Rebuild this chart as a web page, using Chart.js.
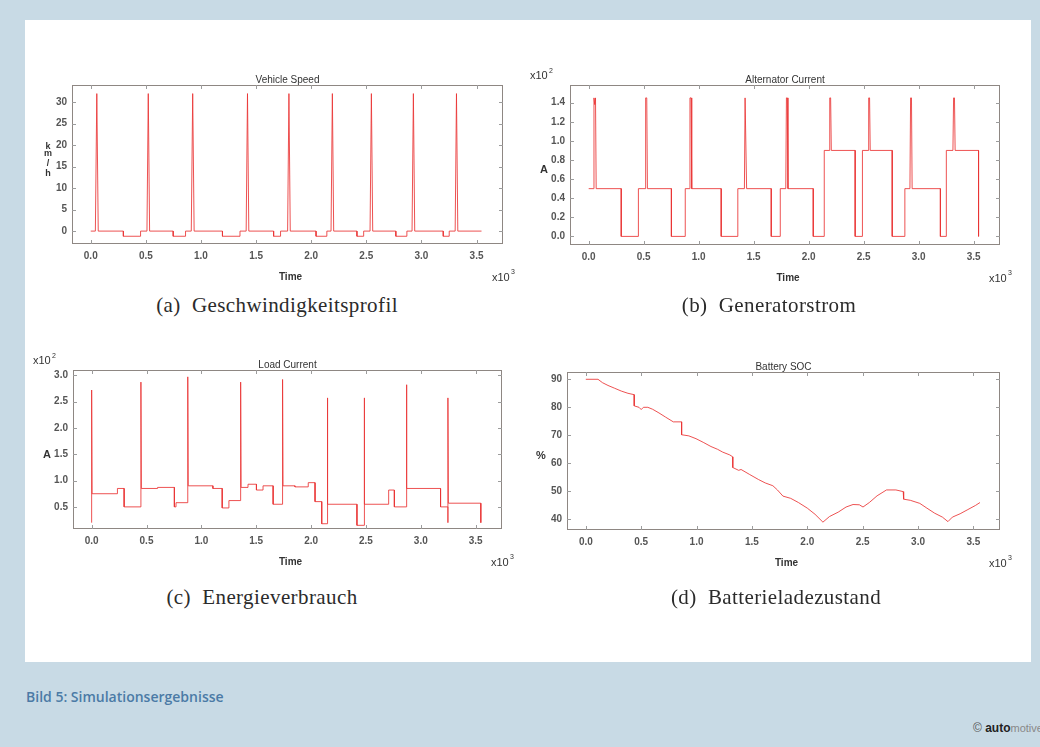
<!DOCTYPE html>
<html>
<head>
<meta charset="utf-8">
<script src="https://cdn.jsdelivr.net/npm/chart.js@4.4.1/dist/chart.umd.min.js"></script>
<style>
  body { margin: 0; width: 1040px; height: 747px; position: relative; overflow: hidden; background: #c8dae5; }
  #panel { position: absolute; left: 25px; top: 20px; width: 1006px; height: 642px; background: #fff; }
  canvas { position: absolute; }
  .cap { position: absolute; width: 400px; text-align: center; font: 21px "Liberation Serif", serif; letter-spacing: 0.4px; color: #2b2b2b; line-height: 24px; }
  #bild { position: absolute; left: 26px; top: 687px; font: 600 14px "Open Sans", sans-serif; color: #4b7aa6; }
  #copy { position: absolute; left: 973px; top: 721px; font: 12px "Liberation Sans", sans-serif; color: #555; white-space: nowrap; }
  #copy b { color: #222; }
  #copy span { color: #888; font-size: 11px; }
</style>
</head>
<body>
<div id="panel"></div>
<canvas id="speedChart" width="536" height="224" style="left:12px;top:65px"></canvas>
<canvas id="altChart" width="535" height="225" style="left:510px;top:65px"></canvas>
<canvas id="loadChart" width="534" height="224" style="left:13px;top:350px"></canvas>
<canvas id="socChart" width="538" height="223" style="left:507px;top:352px"></canvas>

<div class="cap" style="left:77px;top:293px">(a)&nbsp; Geschwindigkeitsprofil</div>
<div class="cap" style="left:569px;top:293px">(b)&nbsp; Generatorstrom</div>
<div class="cap" style="left:62px;top:585px">(c)&nbsp; Energieverbrauch</div>
<div class="cap" style="left:576px;top:585px">(d)&nbsp; Batterieladezustand</div>

<div id="bild">Bild 5: Simulationsergebnisse</div>
<div id="copy">© <b>auto</b><span>motive</span></div>

<script>
// time in s, shown on the axis as x10^3
const xTicks = [0, 500, 1000, 1500, 2000, 2500, 3000, 3500];

// (a) vehicle speed, km/h
const speedTime = [0, 42, 55, 68, 296, 296, 452, 452, 510, 522, 534, 748, 748, 860, 860, 912, 925, 938,
  1195, 1195, 1354, 1354, 1410, 1422, 1434, 1659, 1659, 1722, 1722, 1786, 1798, 1810, 2044, 2044, 2142, 2142,
  2180, 2192, 2204, 2415, 2415, 2476, 2476, 2534, 2546, 2558, 2768, 2768, 2868, 2868, 2915, 2927, 2939,
  3198, 3198, 3252, 3252, 3306, 3318, 3330, 3545];
const speedKmh = [0, 0, 32, 0, 0, -1.2, -1.2, 0, 0, 32, 0, 0, -1.2, -1.2, 0, 0, 32, 0,
  0, -1.2, -1.2, 0, 0, 32, 0, 0, -1.2, -1.2, 0, 0, 32, 0, 0, -1.2, -1.2, 0,
  0, 32, 0, 0, -1.2, -1.2, 0, 0, 32, 0, 0, -1.2, -1.2, 0, 0, 32, 0,
  0, -1.2, -1.2, 0, 0, 32, 0, 0];
const speedTicks = [0, 5, 10, 15, 20, 25, 30];

// (b) alternator current, A
const altTime = [0, 42, 48, 55, 62, 68, 296, 296, 452, 452, 512, 518, 528, 534, 752, 752, 878, 878,
  915, 921, 931, 937, 1205, 1205, 1356, 1356, 1416, 1422, 1430, 1436, 1660, 1660, 1742, 1742,
  1792, 1798, 1806, 1812, 2042, 2042, 2142, 2142, 2186, 2192, 2200, 2206, 2423, 2423, 2489, 2489,
  2540, 2546, 2554, 2560, 2760, 2760, 2875, 2875, 2921, 2927, 2935, 2941, 3198, 3198, 3252, 3252,
  3312, 3318, 3326, 3332, 3545, 3545];
const altAmps = [50, 50, 145, 138, 145, 50, 50, 0, 0, 50, 50, 145, 145, 50, 50, 0, 0, 50,
  50, 145, 145, 50, 50, 0, 0, 50, 50, 145, 145, 50, 50, 0, 0, 50,
  50, 145, 145, 50, 50, 0, 0, 90, 90, 145, 145, 90, 90, 0, 0, 90,
  90, 145, 145, 90, 90, 0, 0, 50, 50, 145, 145, 50, 50, 0, 0, 90,
  90, 145, 145, 90, 90, 0];
const altTicks = [0, 20, 40, 60, 80, 100, 120, 140];

// (c) load current, A
const loadTime = [0, 0, 4, 235, 235, 296, 296, 449, 449, 453, 601, 601, 754, 754, 769, 769, 876, 876, 880,
  1105, 1105, 1190, 1190, 1251, 1251, 1358, 1358, 1362, 1425, 1425, 1502, 1502, 1562, 1562, 1654, 1654,
  1740, 1740, 1744, 1853, 1853, 1974, 1974, 2036, 2036, 2097, 2097, 2148, 2148, 2152, 2418, 2418, 2484,
  2484, 2488, 2707, 2707, 2759, 2759, 2869, 2869, 2873, 3180, 3180, 3247, 3247, 3247, 3251, 3547, 3547];
const loadAmps = [20, 272, 75, 75, 85, 85, 50, 50, 287, 85, 85, 87, 87, 50, 50, 58, 58, 297, 90,
  90, 85, 85, 48, 48, 62, 62, 287, 87, 87, 93, 93, 82, 82, 90, 90, 55,
  55, 292, 90, 90, 88, 88, 96, 96, 60, 60, 18, 18, 257, 55, 55, 15, 15,
  257, 55, 55, 82, 82, 50, 50, 282, 85, 85, 50, 50, 20, 257, 57, 57, 20];
const loadTicks = [50, 100, 150, 200, 250, 300];

// (d) battery state of charge, %
const socTime = [0, 110, 150, 200, 260, 320, 380, 437, 437, 480, 500, 520, 560, 603, 660, 720, 790, 865, 865,
  930, 995, 1060, 1130, 1190, 1236, 1300, 1327, 1327, 1380, 1402, 1480, 1560, 1620, 1689, 1730, 1780,
  1850, 1920, 2000, 2070, 2141, 2200, 2280, 2350, 2413, 2470, 2503, 2560, 2630, 2715, 2800, 2866, 2870,
  2930, 3016, 3080, 3150, 3220, 3270, 3310, 3380, 3450, 3520, 3559];
const socPct = [90, 90, 88.8, 87.8, 86.8, 85.8, 85, 84.5, 80.5, 80, 79.2, 80, 80, 79.3, 78, 76.5, 74.8, 74.8, 70.2,
  69.8, 68.8, 67.5, 66, 65, 64, 63, 62.3, 58.5, 57.5, 57.8, 56, 54.2, 53, 52, 50.5, 48.3,
  47.5, 46, 44, 41.8, 39, 41, 42.6, 44.4, 45.3, 45.2, 44.4, 46, 48.4, 50.5, 50.5, 49.9, 47.2,
  46.8, 45.7, 44, 42.2, 40.8, 39.2, 40.8, 42, 43.5, 45, 46];
const socTicks = [40, 50, 60, 70, 80, 90];

const FONT = '"Liberation Sans", Arial, sans-serif';

const figureText = {
  id: 'figureText',
  afterDraw(chart, args, o) {
    const { ctx, chartArea: a } = chart;
    const xs = chart.scales.x, ys = chart.scales.y;
    ctx.save();
    // frame round the plot
    ctx.strokeStyle = '#8e8783';
    ctx.lineWidth = 1;
    ctx.strokeRect(Math.round(a.left) + 0.5, Math.round(a.top) + 0.5, Math.round(a.width) - 1, Math.round(a.height) - 1);
    // inward tick marks on all four sides
    ctx.strokeStyle = '#9c9c9c';
    ctx.beginPath();
    xs.ticks.forEach(t => {
      const p = Math.round(xs.getPixelForValue(t.value)) + 0.5;
      ctx.moveTo(p, a.bottom); ctx.lineTo(p, a.bottom - 4);
      ctx.moveTo(p, a.top); ctx.lineTo(p, a.top + 4);
    });
    ys.ticks.forEach(t => {
      const p = Math.round(ys.getPixelForValue(t.value)) + 0.5;
      ctx.moveTo(a.left, p); ctx.lineTo(a.left + 4, p);
      ctx.moveTo(a.right, p); ctx.lineTo(a.right - 4, p);
    });
    ctx.stroke();

    const cx = (a.left + a.right) / 2;
    ctx.fillStyle = '#333';
    ctx.textAlign = 'center';
    ctx.textBaseline = 'alphabetic';
    ctx.font = '10px ' + FONT;
    ctx.fillText(o.title, cx, a.top - 2);

    ctx.textBaseline = 'middle';
    ctx.font = 'bold 10px ' + FONT;
    ctx.fillText('Time', cx + 3, a.bottom + 33);

    ctx.textAlign = 'left';
    ctx.font = '11px ' + FONT;
    ctx.fillText('x10', a.right - 11, a.bottom + 34);
    ctx.font = '7px ' + FONT;
    ctx.fillText('3', a.right + 8, a.bottom + 28);

    if (o.mult) {
      ctx.font = '11px ' + FONT;
      ctx.fillText('x10', a.left - 40, a.top - 9);
      ctx.font = '7px ' + FONT;
      ctx.fillText(o.mult, a.left - 21, a.top - 14);
    }

    // y label, stacked letter by letter for km/h
    ctx.textAlign = 'center';
    ctx.textBaseline = 'alphabetic';
    const cy = (a.top + a.bottom) / 2;
    const letters = o.yLabel.split(' ');
    if (letters.length > 1) {
      ctx.font = 'bold 9px ' + FONT;
      const offs = [-16, -8.5, 1, 11];
      letters.forEach((s, i) => ctx.fillText(s, a.left - 24, cy + offs[i]));
    } else {
      ctx.font = 'bold 11px ' + FONT;
      ctx.fillText(o.yLabel, a.left - 26, cy + 8);
    }
    ctx.restore();
  }
};

function series(times, values) {
  return times.map((t, i) => ({ x: t, y: values[i] }));
}

function makeChart(id, cfg) {
  return new Chart(document.getElementById(id), {
    type: 'line',
    data: {
      datasets: [{
        data: series(cfg.times, cfg.values),
        borderColor: 'rgba(234, 52, 52, 0.85)',
        borderWidth: 1,
        pointRadius: 0,
        tension: 0
      }]
    },
    options: {
      responsive: false,
      animation: false,
      devicePixelRatio: 1,
      layout: { padding: { top: 20, right: 45, left: 0, bottom: 0 } },
      scales: {
        x: {
          type: 'linear',
          min: -170,
          max: 3740,
          grid: { display: false, drawTicks: false },
          border: { display: false },
          afterBuildTicks: s => { s.ticks = xTicks.map(v => ({ value: v })); },
          afterFit: s => { s.height = 45; },
          ticks: {
            padding: 6, autoSkip: false, maxRotation: 0, color: '#555',
            font: { family: FONT, size: 10, weight: 'bold' },
            callback: v => (v / 1000).toFixed(1)
          }
        },
        y: {
          min: cfg.min,
          max: cfg.max,
          grid: { display: false, drawTicks: false },
          border: { display: false },
          afterBuildTicks: s => { s.ticks = cfg.ticks.map(v => ({ value: v })); },
          afterFit: s => { s.width = 60; },
          ticks: {
            padding: 5, autoSkip: false, color: '#555',
            font: { family: FONT, size: 10, weight: 'bold' },
            callback: cfg.format
          }
        }
      },
      plugins: {
        legend: { display: false },
        tooltip: { enabled: false },
        figureText: { title: cfg.title, yLabel: cfg.yLabel, mult: cfg.mult }
      }
    },
    plugins: [figureText]
  });
}

makeChart('speedChart', {
  times: speedTime, values: speedKmh, ticks: speedTicks, min: -3, max: 34,
  format: v => String(v), title: 'Vehicle Speed', yLabel: 'k m / h', mult: ''
});
makeChart('altChart', {
  times: altTime, values: altAmps, ticks: altTicks, min: -9, max: 158.5,
  format: v => (v / 100).toFixed(1), title: 'Alternator Current', yLabel: 'A', mult: '2'
});
makeChart('loadChart', {
  times: loadTime, values: loadAmps, ticks: loadTicks, min: 8, max: 310,
  format: v => (v / 100).toFixed(1), title: 'Load Current', yLabel: 'A', mult: '2'
});
makeChart('socChart', {
  times: socTime, values: socPct, ticks: socTicks, min: 36.2, max: 92.6,
  format: v => String(v), title: 'Battery SOC', yLabel: '%', mult: ''
});
</script>
</body>
</html>
